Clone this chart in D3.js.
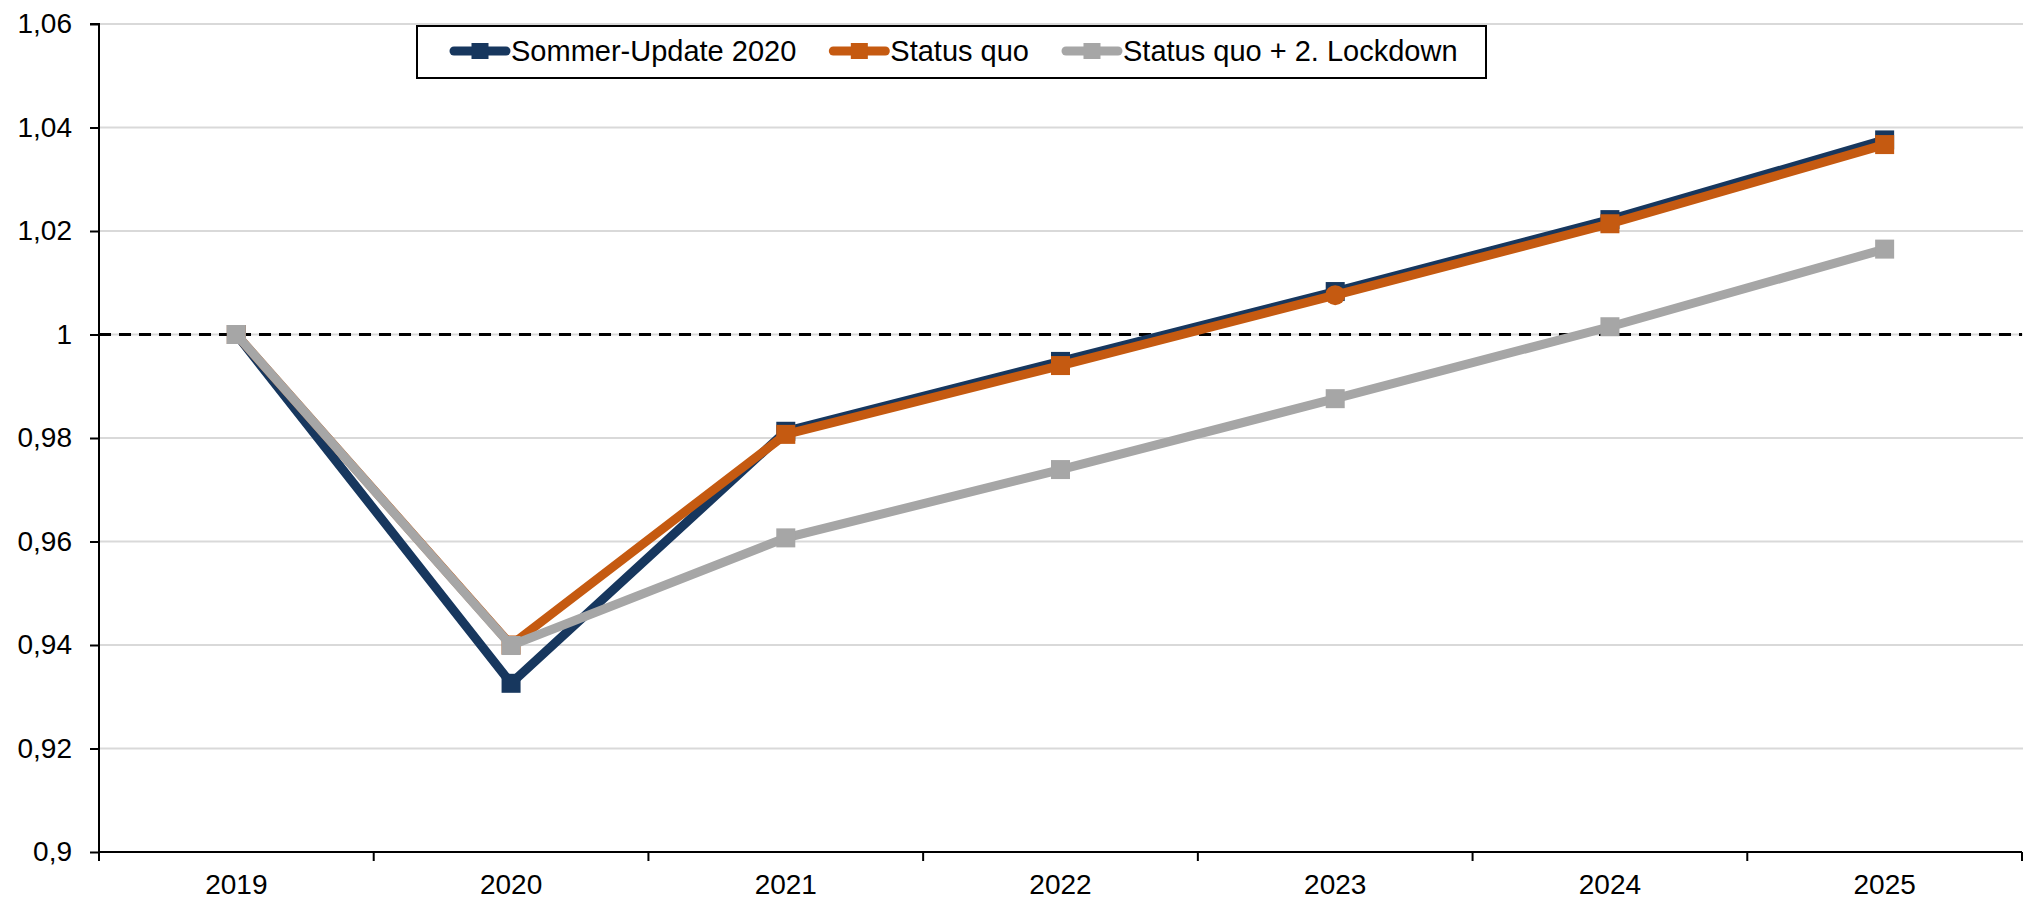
<!DOCTYPE html>
<html>
<head>
<meta charset="utf-8">
<script src="https://cdn.jsdelivr.net/npm/d3@7"></script>
<style>
  html, body { margin: 0; padding: 0; background: #fff; }
  svg { display: block; font-family: "Liberation Sans", Arial, sans-serif; }
</style>
</head>
<body>
<svg id="chart" width="2023" height="901"></svg>
<script>
// ---- data ----
const years = ["2019", "2020", "2021", "2022", "2023", "2024", "2025"];
const sommerUpdate = [1.0, 0.9326, 0.9813, 0.9948, 1.0083, 1.0222, 1.0376];
const statusQuo    = [1.0, 0.9400, 0.9807, 0.9940, 1.0076, 1.0214, 1.0367];
const lockdown2    = [1.0, 0.9399, 0.9607, 0.9739, 0.9876, 1.0015, 1.0165];
const statusQuoShapes = ["square", "square", "square", "square", "circle", "square", "square"];
const yTicks = [0.9, 0.92, 0.94, 0.96, 0.98, 1.0, 1.02, 1.04, 1.06];
const seriesNames = ["Sommer-Update 2020", "Status quo", "Status quo + 2. Lockdown"];
const referenceValue = 1.0;

(function () {
// ---- layout ----
const W = 2023, H = 901;
const pLeft = 99, pRight = 2022, pTop = 24, pBottom = 852;
const colors = ["#17375E", "#C55A11", "#A6A6A6"];
const lineW = 9, markerSize = 19;
const fontSize = 28, legendFont = 29;

const svg = d3.select("#chart");
const x = d3.scaleBand().domain(years).range([pLeft, pRight]).padding(0);
const y = d3.scaleLinear().domain([0.9, 1.06]).range([pBottom, pTop]);
const cx = d => x(d) + x.bandwidth() / 2;

const locale = d3.formatLocale({decimal: ",", thousands: ".", grouping: [3], currency: ["", "€"]});
const fmt = locale.format(".2~f");

// gridlines
svg.append("g").selectAll("line")
  .data(yTicks.filter(v => v > 0.9))
  .join("line")
  .attr("x1", pLeft).attr("x2", W)
  .attr("y1", d => y(d)).attr("y2", d => y(d))
  .attr("stroke", "#D9D9D9").attr("stroke-width", 2);

// dashed reference line
svg.append("line")
  .attr("x1", pLeft).attr("x2", pRight)
  .attr("y1", y(referenceValue)).attr("y2", y(referenceValue))
  .attr("stroke", "#000").attr("stroke-width", 3)
  .attr("stroke-dasharray", "12,8");

// y axis
const yAxis = d3.axisLeft(y).tickValues(yTicks).tickFormat(fmt).tickSize(9).tickPadding(18);
const gy = svg.append("g").attr("transform", `translate(${pLeft},0)`).call(yAxis);
gy.select(".domain").attr("stroke", "#000").attr("stroke-width", 2).attr("d", `M-9,${pTop}H0V${pBottom}`);
gy.selectAll(".tick line").attr("stroke", "#000").attr("stroke-width", 2);
gy.selectAll(".tick text").attr("font-size", fontSize).attr("fill", "#000")
  .attr("font-family", "Liberation Sans, Arial, sans-serif");

// x axis
const gx = svg.append("g");
gx.append("line").attr("x1", pLeft).attr("x2", pRight).attr("y1", pBottom).attr("y2", pBottom)
  .attr("stroke", "#000").attr("stroke-width", 2);
const boundaries = years.map(d => x(d)).concat([x(years[years.length - 1]) + x.bandwidth()]);
gx.selectAll("line.tk").data(boundaries).join("line").attr("class", "tk")
  .attr("x1", d => d).attr("x2", d => d).attr("y1", pBottom).attr("y2", pBottom + 9)
  .attr("stroke", "#000").attr("stroke-width", 2);
gx.selectAll("text").data(years).join("text")
  .attr("x", d => cx(d)).attr("y", 894)
  .attr("text-anchor", "middle").attr("font-size", fontSize).attr("fill", "#000")
  .text(d => d);

// series
const allSeries = [
  {name: seriesNames[0], values: sommerUpdate, color: colors[0], shapes: null},
  {name: seriesNames[1], values: statusQuo, color: colors[1], shapes: statusQuoShapes},
  {name: seriesNames[2], values: lockdown2, color: colors[2], shapes: null}
];
const line = d3.line().x((v, i) => cx(years[i])).y(v => y(v));

allSeries.forEach(s => {
  const g = svg.append("g");
  g.append("path").attr("d", line(s.values))
    .attr("fill", "none").attr("stroke", s.color).attr("stroke-width", lineW)
    .attr("stroke-linejoin", "miter");
  s.values.forEach((v, i) => {
    const shape = s.shapes ? s.shapes[i] : "square";
    if (shape === "circle") {
      g.append("circle").attr("cx", cx(years[i])).attr("cy", y(v))
        .attr("r", markerSize / 2 + 0.5).attr("fill", s.color);
    } else {
      g.append("rect")
        .attr("x", cx(years[i]) - markerSize / 2).attr("y", y(v) - markerSize / 2)
        .attr("width", markerSize).attr("height", markerSize).attr("fill", s.color);
    }
  });
});

// legend
const legend = svg.append("g");
legend.append("rect")
  .attr("x", 417).attr("y", 26).attr("width", 1486 - 417).attr("height", 52)
  .attr("fill", "#fff").attr("stroke", "#000").attr("stroke-width", 2);
let lx = 454;
const ly = 51;
allSeries.forEach(s => {
  legend.append("line").attr("x1", lx).attr("x2", lx + 52).attr("y1", ly).attr("y2", ly)
    .attr("stroke", s.color).attr("stroke-width", lineW).attr("stroke-linecap", "round");
  legend.append("rect").attr("x", lx + 26 - 8.5).attr("y", ly - 8).attr("width", 17).attr("height", 16)
    .attr("fill", s.color);
  const t = legend.append("text").attr("x", lx + 57).attr("y", 61)
    .attr("font-size", legendFont).attr("fill", "#000").text(s.name);
  lx = lx + 57 + t.node().getComputedTextLength() + 37;
});
})();
</script>
</body>
</html>
